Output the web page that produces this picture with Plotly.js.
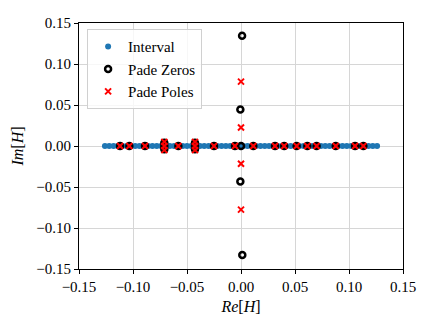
<!DOCTYPE html>
<html>
<head>
<meta charset="utf-8">
<script src="https://cdn.plot.ly/plotly-3.0.1.min.js"></script>
<style>
  body { margin: 0; padding: 0; background: #fff; }
  #chart { width: 432px; height: 324px; }
</style>
</head>
<body>
<div id="chart"></div>
<script>
// interval samples on the real axis
var intervalRe = [
  -0.126, -0.122, -0.118, -0.114, -0.110, -0.106, -0.102, -0.098,
  -0.094, -0.090, -0.086, -0.082, -0.078, -0.074, -0.070, -0.066,
  -0.062, -0.058, -0.054, -0.050, -0.046, -0.042, -0.038, -0.034,
  -0.030, -0.026, -0.022, -0.018, -0.014, -0.010, -0.006, -0.002,
  0.002, 0.006, 0.010, 0.014, 0.018, 0.022, 0.026, 0.030,
  0.034, 0.038, 0.042, 0.046, 0.050, 0.054, 0.058, 0.062,
  0.066, 0.070, 0.074, 0.078, 0.082, 0.086, 0.090, 0.094,
  0.098, 0.102, 0.106, 0.110, 0.114, 0.118, 0.122, 0.126
];
var intervalIm = [
  0, 0, 0, 0, 0, 0, 0, 0, 0, 0, 0, 0, 0, 0, 0, 0,
  0, 0, 0, 0, 0, 0, 0, 0, 0, 0, 0, 0, 0, 0, 0, 0,
  0, 0, 0, 0, 0, 0, 0, 0, 0, 0, 0, 0, 0, 0, 0, 0,
  0, 0, 0, 0, 0, 0, 0, 0, 0, 0, 0, 0, 0, 0, 0, 0
];

// pade zeros
var zerosRe = [
  -0.112, -0.1034, -0.0889, -0.071, -0.071, -0.071, -0.058,
  -0.0426, -0.0426, -0.0426, -0.025, -0.0056, 0.0, 0.0114,
  0.0315, 0.040, 0.0515, 0.0614, 0.070, 0.0877, 0.1056, 0.1133,
  0.001, -0.0006, -0.0006, 0.0012
];
var zerosIm = [
  0, 0, 0, 0.004, 0, -0.004, 0,
  0.004, 0, -0.004, 0, 0, 0, 0,
  0, 0, 0, 0, 0, 0, 0, 0,
  0.1344, 0.0444, -0.0432, -0.133
];

// pade poles
var polesRe = [
  -0.112, -0.1034, -0.0889, -0.071, -0.071, -0.071, -0.058,
  -0.0426, -0.0426, -0.0426, -0.025, -0.0056, 0.0114,
  0.0315, 0.040, 0.0515, 0.0614, 0.070, 0.0877, 0.1056, 0.1133,
  0.0, 0.0, 0.0, 0.0
];
var polesIm = [
  0, 0, 0, 0.005, 0, -0.005, 0,
  0.005, 0, -0.005, 0, 0, 0,
  0, 0, 0, 0, 0, 0, 0, 0,
  0.0785, 0.0225, -0.0217, -0.0776
];

var font = '"Liberation Serif", "Times New Roman", serif';

var data = [
  {
    x: intervalRe, y: intervalIm, name: "Interval",
    mode: "markers", type: "scatter",
    marker: { color: "#1f77b4", size: 6 }
  },
  {
    x: zerosRe, y: zerosIm, name: "Pade Zeros",
    mode: "markers", type: "scatter",
    marker: { symbol: "circle-open", color: "black", size: 6, line: { width: 2.5, color: "black" } }
  },
  {
    x: polesRe, y: polesIm, name: "Pade Poles",
    mode: "markers", type: "scatter",
    marker: { symbol: "x-thin-open", color: "red", size: 6, line: { width: 2, color: "red" } }
  }
];

var axisStyle = {
  range: [-0.15, 0.15],
  dtick: 0.05,
  tickformat: ".2f",
  showgrid: true,
  gridcolor: "#d6d6d6",
  gridwidth: 1,
  zeroline: false,
  showline: true,
  linecolor: "black",
  linewidth: 1,
  mirror: true,
  ticks: "outside",
  ticklen: 4,
  tickcolor: "black",
  tickfont: { family: font, size: 15, color: "black" }
};

var layout = {
  width: 432,
  height: 324,
  margin: { l: 79, r: 29, t: 23, b: 55 },
  paper_bgcolor: "white",
  plot_bgcolor: "white",
  font: { family: font, color: "black" },
  showlegend: true,
  legend: {
    x: 0.025, y: 0.975, xanchor: "left", yanchor: "top",
    bgcolor: "rgba(255,255,255,0.8)",
    bordercolor: "#d0d0d0", borderwidth: 1,
    font: { family: font, size: 15, color: "black" },
    itemwidth: 30,
    tracegroupgap: 0
  },
  xaxis: Object.assign({}, axisStyle, {
    title: { text: "<i>Re</i>[<i>H</i>]", font: { family: font, size: 16 }, standoff: 6 }
  }),
  yaxis: Object.assign({}, axisStyle, {
    title: { text: "<i>Im</i>[<i>H</i>]", font: { family: font, size: 16 }, standoff: 8 }
  })
};

Plotly.newPlot("chart", data, layout, { displayModeBar: false, staticPlot: true });
</script>
</body>
</html>
